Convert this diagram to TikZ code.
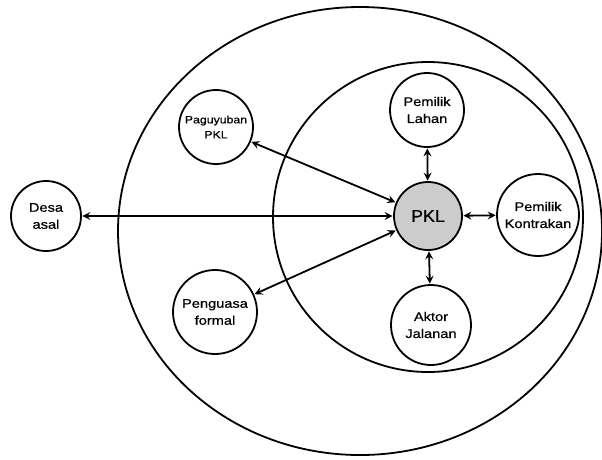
\documentclass[tikz,border=0pt]{standalone}
\usepackage{fontspec}
\setmainfont{Liberation Sans}
\newfontfamily\lblfont[FakeStretch=1.17,FakeBold=0.5]{Liberation Sans}
\newfontfamily\pklfont[FakeStretch=1.05,FakeBold=0.6]{Liberation Sans}
\usetikzlibrary{arrows.meta}
\tikzset{
  actor/.style={circle, draw, line width=1.8pt, fill=white, minimum size=#1, inner sep=0pt, align=center,
    font=\lblfont\fontsize{12.5}{17}\selectfont},
  ring/.style={draw, line width=1.8pt},
  arr/.style={line width=1.8pt, {Stealth[length=8pt,width=8pt,inset=3pt]}-{Stealth[length=8pt,width=8pt,inset=3pt]}, shorten <=0.5pt, shorten >=0.5pt}
}
\begin{document}
\begin{tikzpicture}[x=1pt,y=-1pt]
\useasboundingbox (0,0) rectangle (602,459);
\draw[ring] (360,231) ellipse [x radius=242pt, y radius=224pt];
\draw[ring] (428,217) circle [radius=155pt];
\node[actor=68pt, fill=gray!40, font=\pklfont\fontsize{17}{20}\selectfont] (pkl) at (428,216) {PKL};
\node[actor=74pt] (lahan) at (427,110) {Pemilik\\Lahan};
\node[actor=82pt] (kontrak) at (538,215) {Pemilik\\Kontrakan};
\node[actor=80pt] (aktor) at (431,325) {Aktor\\Jalanan};
\node[actor=74pt, font=\lblfont\fontsize{10.5}{15}\selectfont] (paguyuban) at (216,127) {Paguyuban\\PKL};
\node[actor=84pt] (penguasa) at (215,312) {Penguasa\\formal};
\node[actor=70pt] (desa) at (46,216) {Desa\\asal};
\draw[arr] (desa) -- (pkl);
\draw[arr] (paguyuban) -- (pkl);
\draw[arr] (penguasa) -- (pkl);
\draw[arr] (lahan) -- (pkl);
\draw[arr] (kontrak) -- (pkl);
\draw[arr] (aktor) -- (pkl);
\end{tikzpicture}
\end{document}
